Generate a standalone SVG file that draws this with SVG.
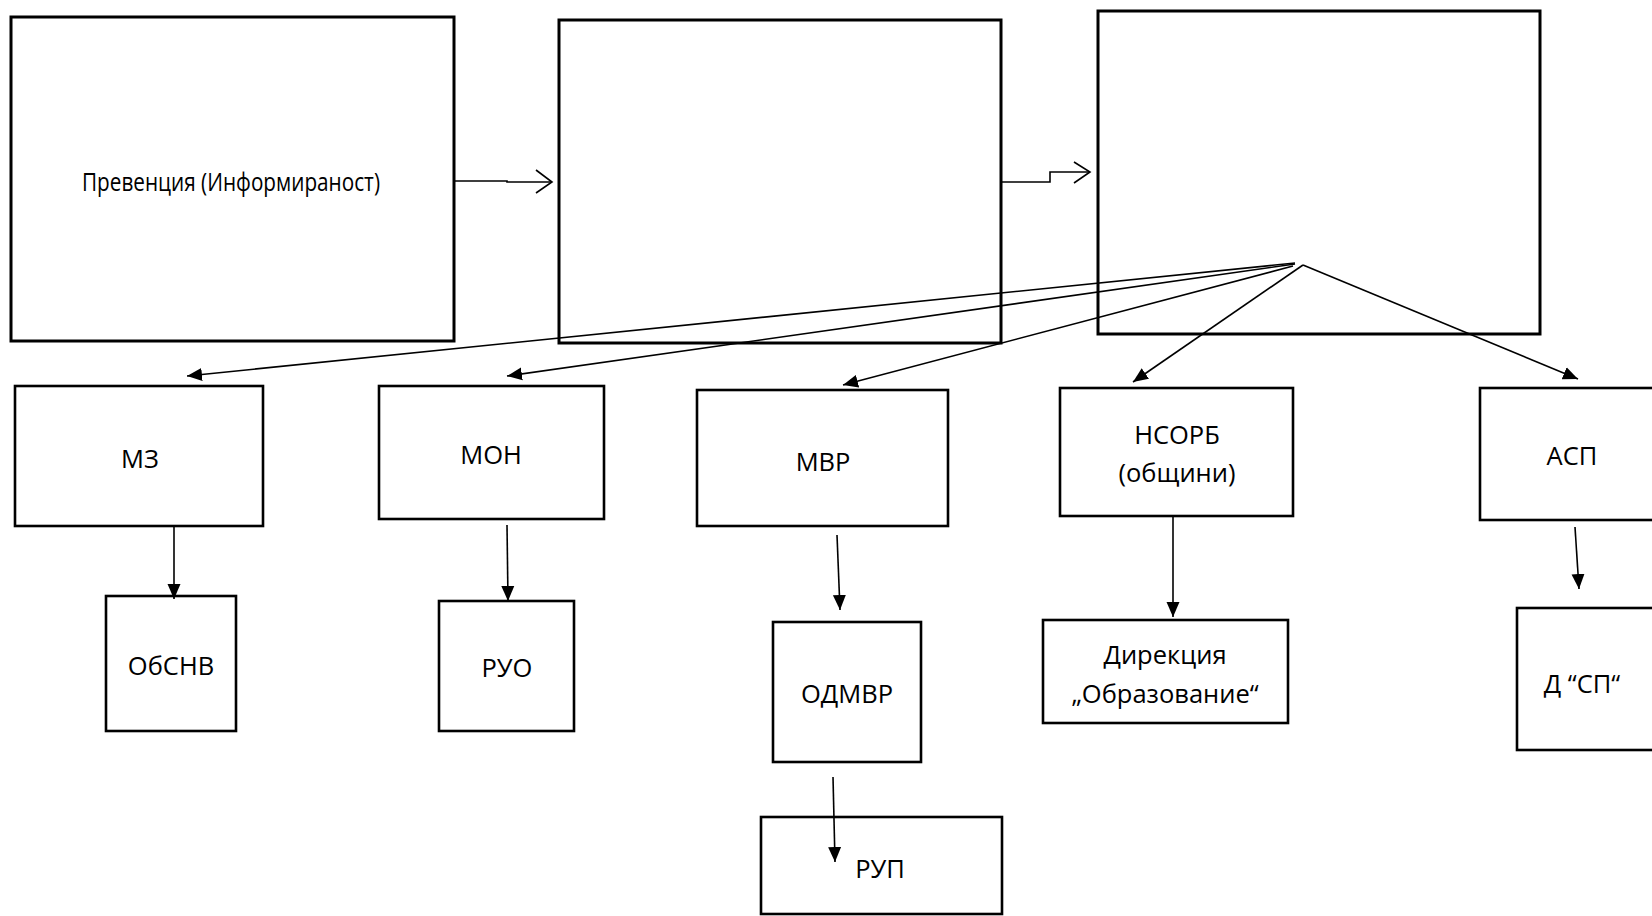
<svg xmlns="http://www.w3.org/2000/svg" width="1652" height="916" viewBox="0 0 1652 916">
<style>
.big{fill:#fff;stroke:#000;stroke-width:3}
.box{fill:#fff;stroke:#000;stroke-width:2.6}
.lbl{font-family:"Open Sans","Liberation Sans",sans-serif;font-size:25.5px;fill:#000;text-anchor:middle}
.ln{fill:none;stroke:#000;stroke-width:1.6}
.arr{fill:none;stroke:#000;stroke-width:1.6;marker-end:url(#tri)}
</style>
<defs>
<marker id="tri" markerUnits="userSpaceOnUse" markerWidth="16" markerHeight="16" viewBox="0 0 16 16" refX="15" refY="8" orient="auto">
<path d="M0,1.5 L15,8 L0,14.5 Z" fill="#000"/>
</marker>
</defs>
<rect width="1652" height="916" fill="#fff"/>
<g id="n-prevention"><rect class="big" x="11" y="17" width="443" height="324"/><text class="lbl" x="231" y="191" font-size="26" textLength="298" lengthAdjust="spacingAndGlyphs">Превенция (Информираност)</text></g>
<g id="n-box2"><rect class="big" x="559" y="20" width="442" height="323"/></g>
<g id="n-box3"><rect class="big" x="1098" y="11" width="442" height="323"/></g>
<g id="n-mz"><rect class="box" x="15" y="386" width="248" height="140"/><text class="lbl" x="140" y="468">МЗ</text></g>
<g id="n-mon"><rect class="box" x="379" y="386" width="225" height="133"/><text class="lbl" x="491" y="464">МОН</text></g>
<g id="n-mvr"><rect class="box" x="697" y="390" width="251" height="136"/><text class="lbl" x="823" y="471">МВР</text></g>
<g id="n-nsorb"><rect class="box" x="1060" y="388" width="233" height="128"/><text class="lbl" x="1177" y="444">НСОРБ</text><text class="lbl" x="1177" y="482">(общини)</text></g>
<g id="n-asp"><rect class="box" x="1480" y="388" width="190" height="132"/><text class="lbl" x="1572" y="465">АСП</text></g>
<g id="n-obsnv"><rect class="box" x="106" y="596" width="130" height="135"/><text class="lbl" x="171" y="675">ОбСНВ</text></g>
<g id="n-ruo"><rect class="box" x="439" y="601" width="135" height="130"/><text class="lbl" x="507" y="677">РУО</text></g>
<g id="n-odmvr"><rect class="box" x="773" y="622" width="148" height="140"/><text class="lbl" x="847" y="703">ОДМВР</text></g>
<g id="n-direkcia"><rect class="box" x="1043" y="620" width="245" height="103"/><text class="lbl" x="1165" y="664">Дирекция</text><text class="lbl" x="1165" y="703">„Образование“</text></g>
<g id="n-dsp"><rect class="box" x="1517" y="608" width="160" height="142"/><text class="lbl" x="1582" y="693">Д “СП“</text></g>
<g id="n-rup"><rect class="box" x="761" y="817" width="241" height="97"/><text class="lbl" x="880" y="878">РУП</text></g>
<g id="connectors">
<polyline class="ln" points="454,181 507,181 507,182 552,182"/>
<polyline class="ln" points="536,170 552,182 536,193"/>
<polyline class="ln" points="1001,182 1050,182 1050,172 1090,172"/>
<polyline class="ln" points="1074,162 1090,172 1074,183"/>
<line class="arr" x1="1295" y1="263" x2="187" y2="376"/>
<line class="arr" x1="1295" y1="264" x2="507" y2="376"/>
<line class="arr" x1="1293" y1="266" x2="843" y2="385"/>
<line class="arr" x1="1303" y1="265" x2="1133" y2="382"/>
<line class="arr" x1="1303" y1="265" x2="1578" y2="379"/>
<line class="arr" x1="174" y1="526" x2="174" y2="599"/>
<line class="arr" x1="507" y1="525" x2="508" y2="601"/>
<line class="arr" x1="837" y1="535" x2="840" y2="610"/>
<line class="arr" x1="833" y1="777" x2="835" y2="862"/>
<line class="arr" x1="1173" y1="516" x2="1173" y2="617"/>
<line class="arr" x1="1575" y1="527" x2="1579" y2="589"/>
</g>
</svg>
